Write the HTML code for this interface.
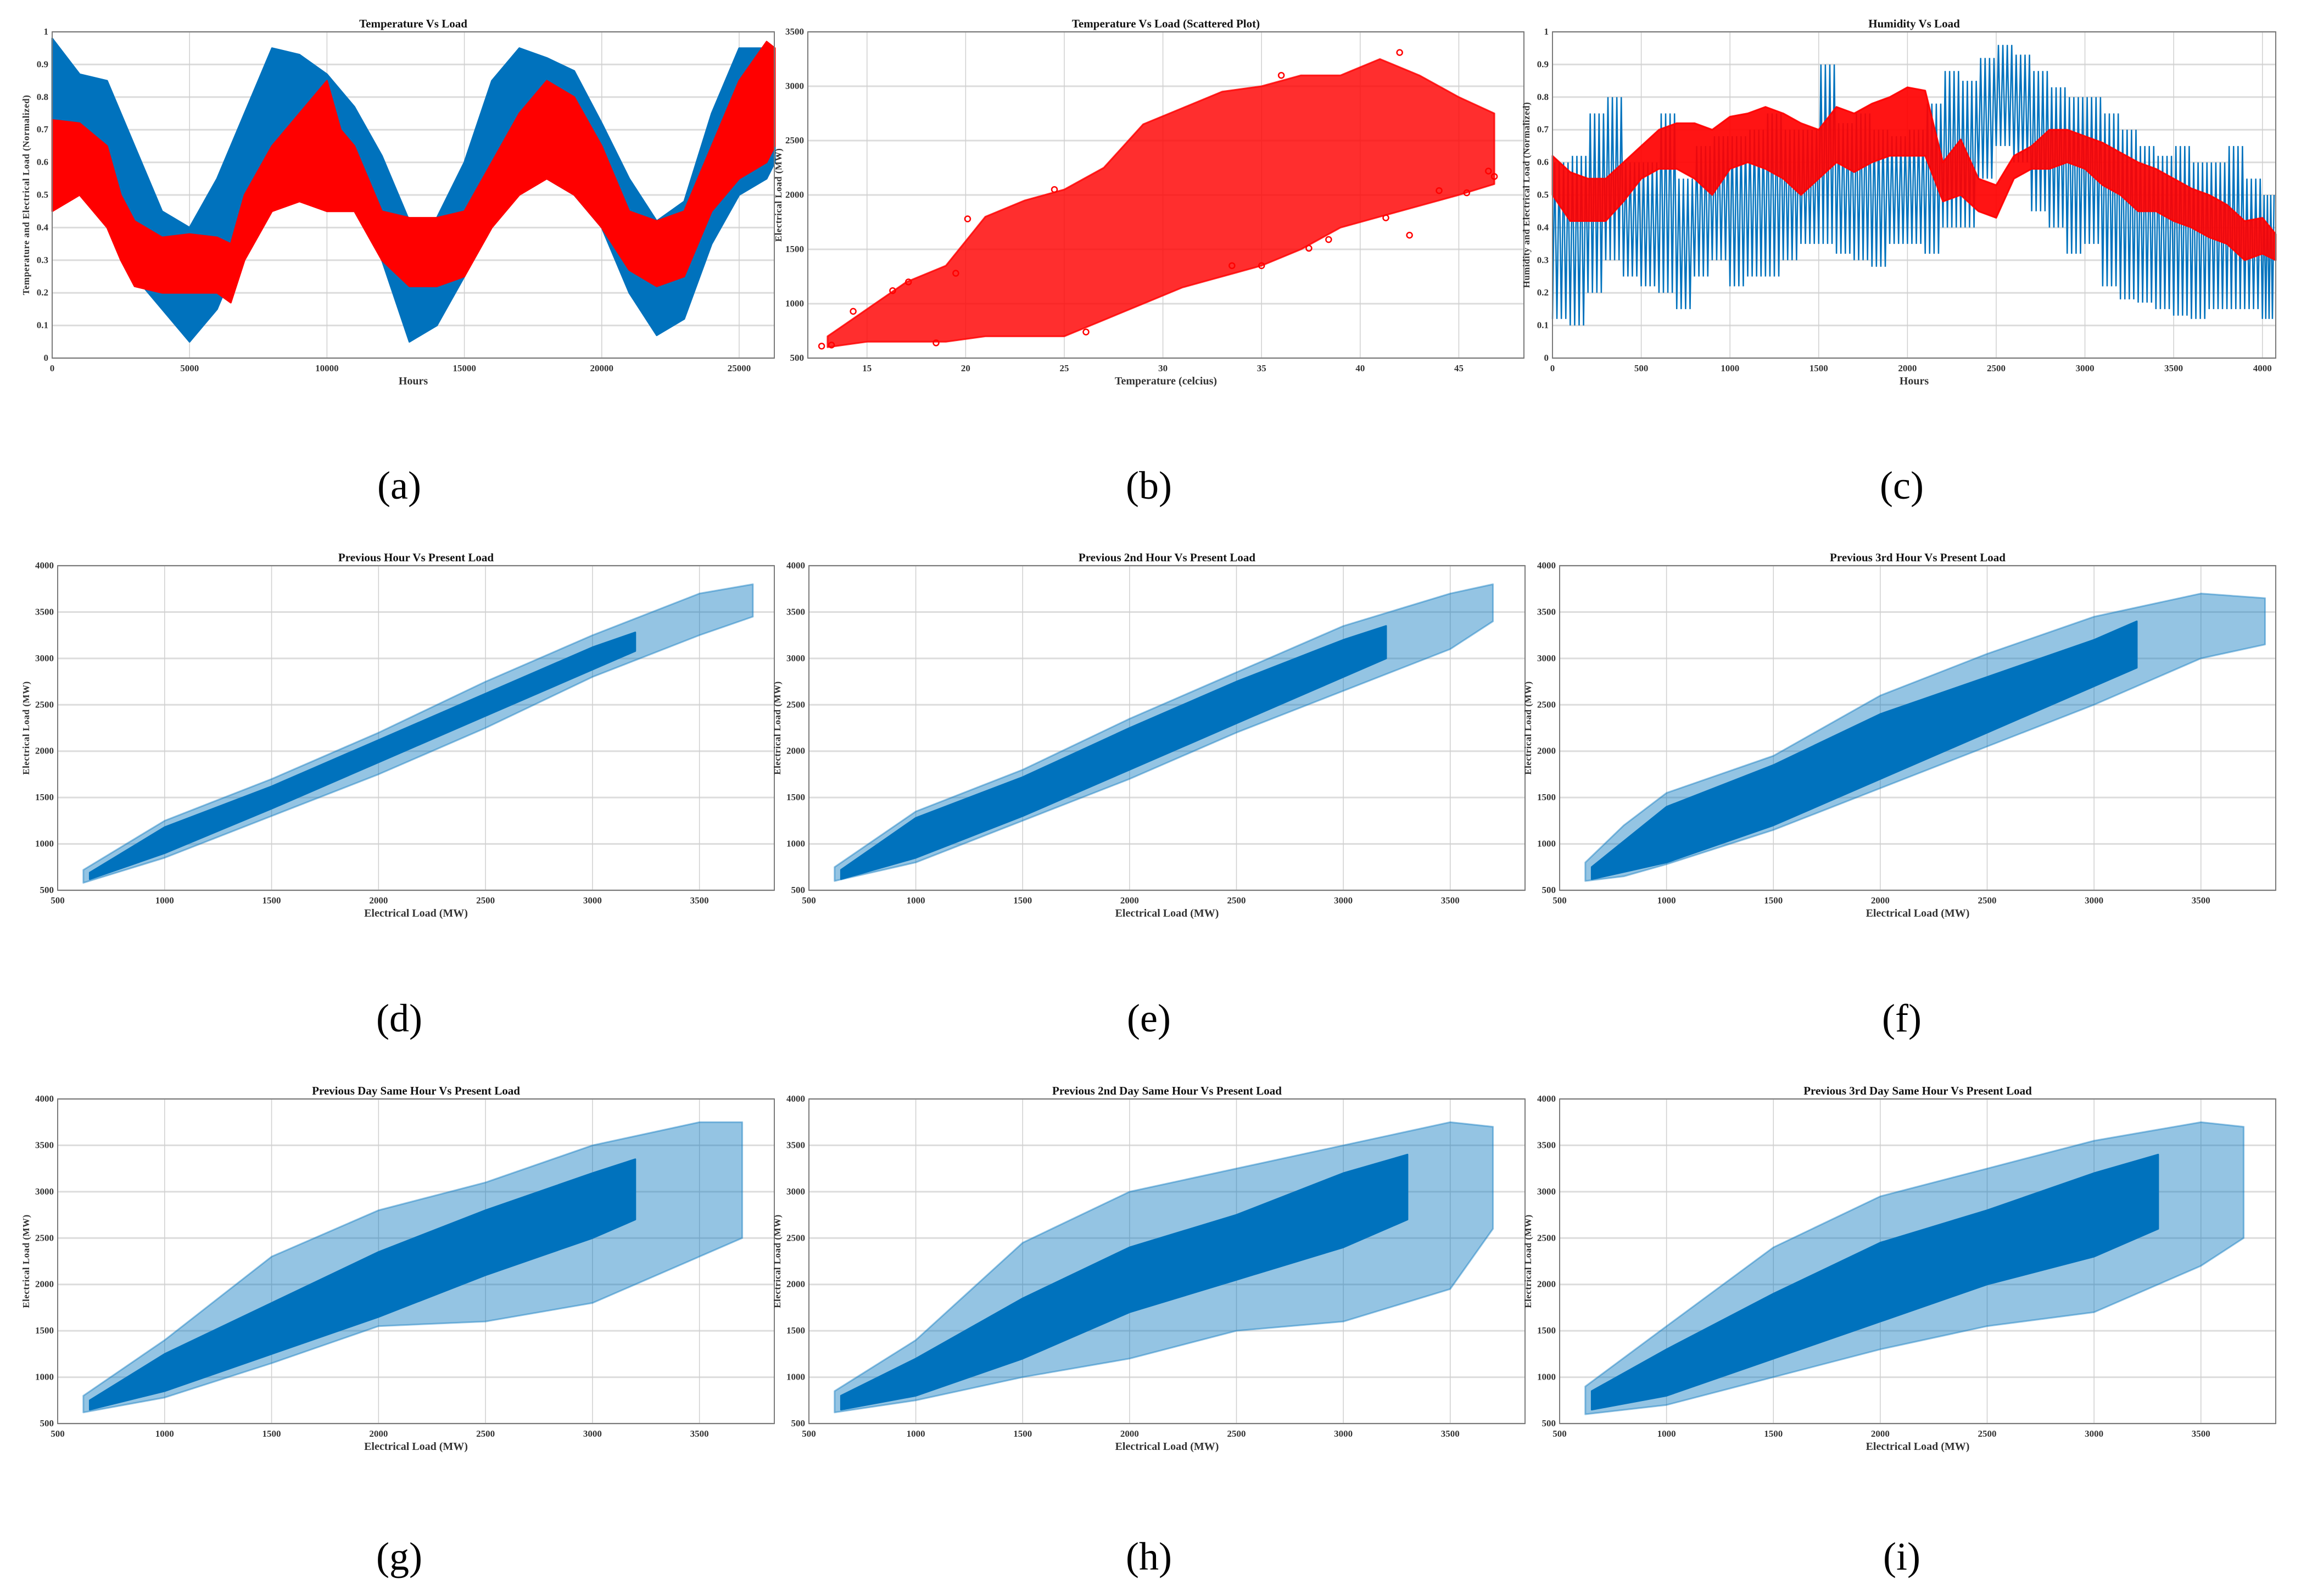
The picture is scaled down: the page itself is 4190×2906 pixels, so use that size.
<!DOCTYPE html>
<html><head><meta charset="utf-8">
<style>
html,body{margin:0;padding:0;background:#fff;}
svg{display:block;}
text{font-family:"Liberation Serif",serif;}
</style></head>
<body>
<svg id="fig" xmlns="http://www.w3.org/2000/svg" width="4190" height="2906" viewBox="0 0 4190 2906"></svg>
<script>
// ---------- Panel (a) data: Temperature vs Load (normalized), envelope per hour sample ----------
const aHours   = [0,1000,2000,3000,4000,5000,6000,7000,8000,9000,10000,11000,12000,13000,14000,15000,16000,17000,18000,19000,20000,21000,22000,23000,24000,25000,26000,26300];
const aBlueLo  = [0.5,0.55,0.45,0.25,0.15,0.05,0.15,0.35,0.5,0.55,0.55,0.5,0.3,0.05,0.1,0.25,0.45,0.55,0.55,0.5,0.4,0.2,0.07,0.12,0.35,0.5,0.55,0.6];
const aBlueHi  = [0.98,0.87,0.85,0.65,0.45,0.4,0.55,0.75,0.95,0.93,0.87,0.77,0.62,0.42,0.43,0.6,0.85,0.95,0.92,0.88,0.72,0.55,0.42,0.48,0.75,0.95,0.95,0.9];
const aRedHours= [0,1000,2000,2500,3000,4000,5000,6000,6500,7000,8000,9000,10000,10500,11000,12000,13000,14000,15000,16000,17000,18000,19000,20000,21000,22000,23000,24000,25000,26000,26300];
const aRedLo   = [0.45,0.5,0.4,0.3,0.22,0.2,0.2,0.2,0.17,0.3,0.45,0.48,0.45,0.45,0.45,0.3,0.22,0.22,0.25,0.4,0.5,0.55,0.5,0.4,0.27,0.22,0.25,0.45,0.55,0.6,0.65];
const aRedHi   = [0.73,0.72,0.65,0.5,0.42,0.37,0.38,0.37,0.35,0.5,0.65,0.75,0.85,0.7,0.65,0.45,0.43,0.43,0.45,0.6,0.75,0.85,0.8,0.65,0.45,0.42,0.45,0.65,0.85,0.97,0.95];
// ---------- Panel (b) data: temperature bins vs load range ----------
const bTemp   = [13,15,17,19,21,23,25,27,29,31,33,35,37,39,41,43,45,46.8];
const bLoadLo = [600,650,650,650,700,700,700,850,1000,1150,1250,1350,1500,1700,1800,1900,2000,2100];
const bLoadHi = [700,950,1200,1350,1800,1950,2050,2250,2650,2800,2950,3000,3100,3100,3250,3100,2900,2750];
const bOutX   = [12.7,13.2,14.3,16.3,17.1,20.1,24.5,36,38.4,42.5,42,46.5,46.8,45.4,44,41.3,37.4,35,33.5,26.1,18.5,19.5];
const bOutY   = [610,620,930,1120,1200,1780,2050,3100,1590,1630,3310,2220,2170,2020,2040,1790,1510,1350,1350,740,640,1280];
// ---------- Panel (c) data: humidity vs load ----------
const cHours  = [0,100,200,300,400,500,600,700,800,900,1000,1100,1200,1300,1400,1500,1600,1700,1800,1900,2000,2100,2200,2300,2400,2500,2600,2700,2800,2900,3000,3100,3200,3300,3400,3500,3600,3700,3800,3900,4000,4075];
const cBlueLo = [0.12,0.1,0.2,0.3,0.25,0.22,0.2,0.15,0.25,0.3,0.22,0.25,0.25,0.3,0.35,0.35,0.32,0.3,0.28,0.35,0.35,0.32,0.4,0.4,0.55,0.65,0.6,0.45,0.4,0.32,0.35,0.22,0.18,0.17,0.15,0.13,0.12,0.15,0.15,0.15,0.12,0.15];
const cBlueHi = [0.6,0.62,0.75,0.8,0.6,0.6,0.75,0.55,0.65,0.68,0.68,0.7,0.75,0.7,0.7,0.9,0.72,0.75,0.7,0.68,0.7,0.78,0.88,0.85,0.92,0.96,0.93,0.88,0.83,0.8,0.8,0.75,0.7,0.65,0.62,0.65,0.6,0.6,0.65,0.55,0.5,0.6];
const cRedLo  = [0.5,0.42,0.42,0.42,0.48,0.55,0.58,0.58,0.55,0.5,0.58,0.6,0.58,0.55,0.5,0.55,0.6,0.57,0.6,0.62,0.62,0.62,0.48,0.5,0.45,0.43,0.55,0.58,0.58,0.6,0.58,0.53,0.5,0.45,0.45,0.42,0.4,0.37,0.35,0.3,0.32,0.3];
const cRedHi  = [0.62,0.57,0.55,0.55,0.6,0.65,0.7,0.72,0.72,0.7,0.74,0.75,0.77,0.75,0.72,0.7,0.77,0.75,0.78,0.8,0.83,0.82,0.6,0.67,0.55,0.53,0.62,0.65,0.7,0.7,0.68,0.66,0.63,0.6,0.58,0.55,0.52,0.5,0.47,0.42,0.43,0.38];
// ---------- Lag scatter panels (d)-(i): x bins with dense-core and halo ranges ----------
const dCoreX=[650,1000,1500,2000,2500,3000,3200];   const dCoreLo=[620,900,1380,1880,2380,2880,3080];  const dCoreHi=[690,1180,1620,2120,2620,3120,3280];
const dHaloX=[620,1000,1500,2000,2500,3000,3500,3750]; const dHaloLo=[580,850,1300,1750,2250,2800,3250,3450]; const dHaloHi=[720,1250,1700,2200,2750,3250,3700,3800];
const eCoreX=[650,1000,1500,2000,2500,3000,3200];   const eCoreLo=[620,850,1300,1800,2300,2800,3000];  const eCoreHi=[720,1280,1720,2250,2750,3200,3350];
const eHaloX=[620,1000,1500,2000,2500,3000,3500,3700]; const eHaloLo=[600,800,1250,1700,2200,2650,3100,3400]; const eHaloHi=[750,1350,1800,2350,2850,3350,3700,3800];
const fCoreX=[650,1000,1500,2000,2500,3000,3200];   const fCoreLo=[620,800,1200,1700,2200,2700,2900];  const fCoreHi=[750,1400,1850,2400,2800,3200,3400];
const fHaloX=[620,800,1000,1500,2000,2500,3000,3500,3800]; const fHaloLo=[600,650,780,1150,1600,2050,2500,3000,3150]; const fHaloHi=[800,1200,1550,1950,2600,3050,3450,3700,3650];
const gCoreX=[650,1000,1500,2000,2500,3000,3200];   const gCoreLo=[650,850,1250,1650,2100,2500,2700];  const gCoreHi=[750,1250,1800,2350,2800,3200,3350];
const gHaloX=[620,1000,1500,2000,2500,3000,3500,3700]; const gHaloLo=[620,780,1150,1550,1600,1800,2300,2500]; const gHaloHi=[800,1400,2300,2800,3100,3500,3750,3750];
const hCoreX=[650,1000,1500,2000,2500,3000,3300];   const hCoreLo=[650,800,1200,1700,2050,2400,2700];  const hCoreHi=[800,1200,1850,2400,2750,3200,3400];
const hHaloX=[620,1000,1500,2000,2500,3000,3500,3700]; const hHaloLo=[620,750,1000,1200,1500,1600,1950,2600]; const hHaloHi=[850,1400,2450,3000,3250,3500,3750,3700];
const iCoreX=[650,1000,1500,2000,2500,3000,3300];   const iCoreLo=[650,800,1200,1600,2000,2300,2600];  const iCoreHi=[850,1300,1900,2450,2800,3200,3400];
const iHaloX=[620,1000,1500,2000,2500,3000,3500,3700]; const iHaloLo=[600,700,1000,1300,1550,1700,2200,2500]; const iHaloHi=[900,1550,2400,2950,3250,3550,3750,3700];
// tick labels
const tickA = [0,5000,10000,15000,20000,25000];
const tickNorm = [0,0.1,0.2,0.3,0.4,0.5,0.6,0.7,0.8,0.9,1];
const tickB = [15,20,25,30,35,40,45];
const tickLoad35 = [500,1000,1500,2000,2500,3000,3500];
const tickC = [0,500,1000,1500,2000,2500,3000,3500,4000];
const tickLoadX = [500,1000,1500,2000,2500,3000,3500];
const tickLoad40 = [500,1000,1500,2000,2500,3000,3500,4000];

const NS="http://www.w3.org/2000/svg";
const svg=document.getElementById('fig');
function el(tag,attrs,parent){const e=document.createElementNS(NS,tag);for(const k in attrs)e.setAttribute(k,attrs[k]);(parent||svg).appendChild(e);return e;}
const BLUE="#0072bd", RED="#ff0000";

function makeAxes(p){
  const g=el('g',{});
  
  
  const sx=v=>p.x0+(v-p.xmin)/(p.xmax-p.xmin)*(p.x1-p.x0);
  const sy=v=>p.y1-(v-p.ymin)/(p.ymax-p.ymin)*(p.y1-p.y0);
  p.sx=sx;p.sy=sy;p.g=g;
  p.yt.forEach(v=>{const l=el('line',{x1:p.x0,x2:p.x1,y1:sy(v),y2:sy(v),stroke:'#dcdcdc','stroke-width':3},g);
    
    });
  p.xt.forEach(v=>{const l=el('line',{x1:sx(v),x2:sx(v),y1:p.y0,y2:p.y1,stroke:'#cfcfcf','stroke-width':1.5},g);
    
    });
  return g;
}
function finishAxes(p){
  const g=p.g;
  const box=el('rect',{x:p.x0,y:p.y0,width:p.x1-p.x0,height:p.y1-p.y0,fill:'none',stroke:'#7a7a7a','stroke-width':2},g);
  
  
  p.xt.forEach(v=>{const t=el('text',{x:p.sx(v),y:p.y1+24,'font-size':17,'font-weight':'bold','text-anchor':'middle',fill:'#333'},g);t.textContent=v;
    
    });
  p.yt.forEach(v=>{const t=el('text',{x:p.x0-7,y:p.sy(v)+5,'font-size':17,'font-weight':'bold','text-anchor':'end',fill:'#333'},g);t.textContent=v;
    
    });
  const title=el('text',{x:(p.x0+p.x1)/2,y:p.y0-8,'font-size':21,'font-weight':'bold','text-anchor':'middle',fill:'#111'},g);title.textContent=p.title;
  
  
  const xl=el('text',{x:(p.x0+p.x1)/2,y:p.y1+48,'font-size':20,'font-weight':'bold','text-anchor':'middle',fill:'#333'},g);xl.textContent=p.xlabel;
  
  
  const cy=(p.y0+p.y1)/2, cx=p.x0-p.ylOff;
  const yl=el('text',{x:cx,y:cy,'font-size':17,'font-weight':'bold','text-anchor':'middle',fill:'#333',transform:`rotate(-90 ${cx} ${cy})`,'letter-spacing':'0.5'},g);yl.textContent=p.ylabel;
  
  
  const lab=el('text',{x:p.labX,y:p.labY,'font-size':72,'text-anchor':'middle',fill:'#000'});lab.textContent=p.letter;
  
  
}
function band(p,xs,lo,hi,fill,op,name){
  let d='M'+xs.map((x,i)=>p.sx(x)+','+p.sy(hi[i])).join(' L');
  d+=' L'+xs.map((x,i)=>p.sx(x)+','+p.sy(lo[i])).reverse().join(' L')+' Z';
  const path=el('path',{d:d,fill:fill,'fill-opacity':op,stroke:fill,'stroke-opacity':op,'stroke-width':3,'stroke-linejoin':'round'},p.g);
  
  
}

const rows=[[58,652,908],[1030,1621,1878],[2001,2592,2858]];
const cols=[[97,1410,727],[1471,2777,2092],[2830,4144,3463]];

// Panel a
const pa={name:'temperature-vs-load-chart',x0:95,x1:1410,y0:rows[0][0],y1:rows[0][1],xmin:0,xmax:26280,ymin:0,ymax:1,xt:tickA,yt:tickNorm,
  title:'Temperature Vs Load',xlabel:'Hours',ylabel:'Temperature and Electrical Load (Normalized)',ylOff:42,letter:'(a)',labX:cols[0][2],labY:rows[0][2]};
makeAxes(pa);
band(pa,aHours,aBlueLo,aBlueHi,BLUE,1,'temperature-series');
band(pa,aRedHours,aRedLo,aRedHi,RED,1,'load-series');
finishAxes(pa);

// Panel b
const pb={name:'temperature-load-scatter-chart',x0:1471,x1:2775,y0:rows[0][0],y1:rows[0][1],xmin:12,xmax:48.3,ymin:500,ymax:3500,xt:tickB,yt:tickLoad35,
  title:'Temperature Vs Load (Scattered Plot)',xlabel:'Temperature (celcius)',ylabel:'Electrical Load (MW)',ylOff:48,letter:'(b)',labX:cols[1][2],labY:rows[0][2]};
makeAxes(pb);
band(pb,bTemp,bLoadLo,bLoadHi,RED,0.82,'scatter-cloud');
bOutX.forEach((x,i)=>{const c=el('circle',{cx:pb.sx(x),cy:pb.sy(bOutY[i]),r:5,fill:'none',stroke:RED,'stroke-width':2.5},pb.g);
  
  });
finishAxes(pb);

// Panel c
const pc={name:'humidity-vs-load-chart',x0:2827,x1:4144,y0:rows[0][0],y1:rows[0][1],xmin:0,xmax:4075,ymin:0,ymax:1,xt:tickC,yt:tickNorm,
  title:'Humidity Vs Load',xlabel:'Hours',ylabel:'Humidity and Electrical Load (Normalized)',ylOff:42,letter:'(c)',labX:cols[2][2],labY:rows[0][2]};
makeAxes(pc);
(function(){
  let pts=[];
  const n=4;
  for(let i=0;i<cHours.length-1;i++){
    const t0=cHours[i], dt=(cHours[i+1]-cHours[i])/n;
    for(let k=0;k<n;k++){
      pts.push(pc.sx(t0+k*dt)+','+pc.sy(cBlueLo[i]));
      pts.push(pc.sx(t0+k*dt+dt/2)+','+pc.sy(cBlueHi[i]));
    }
  }
  const pl=el('polyline',{points:pts.join(' '),fill:'none',stroke:BLUE,'stroke-width':2.5,'stroke-linejoin':'miter'},pc.g);
  
  
})();
band(pc,cHours,cRedLo,cRedHi,RED,0.92,'load-series');
finishAxes(pc);

// Panels d-i
const lagPanels=[
 ['previous-hour-chart','Previous Hour Vs Present Load','(d)',0,1,dCoreX,dCoreLo,dCoreHi,dHaloX,dHaloLo,dHaloHi],
 ['previous-2nd-hour-chart','Previous 2nd Hour Vs Present Load','(e)',1,1,eCoreX,eCoreLo,eCoreHi,eHaloX,eHaloLo,eHaloHi],
 ['previous-3rd-hour-chart','Previous 3rd Hour Vs Present Load','(f)',2,1,fCoreX,fCoreLo,fCoreHi,fHaloX,fHaloLo,fHaloHi],
 ['previous-day-chart','Previous Day Same Hour Vs Present Load','(g)',0,2,gCoreX,gCoreLo,gCoreHi,gHaloX,gHaloLo,gHaloHi],
 ['previous-2nd-day-chart','Previous 2nd Day Same Hour Vs Present Load','(h)',1,2,hCoreX,hCoreLo,hCoreHi,hHaloX,hHaloLo,hHaloHi],
 ['previous-3rd-day-chart','Previous 3rd Day Same Hour Vs Present Load','(i)',2,2,iCoreX,iCoreLo,iCoreHi,iHaloX,iHaloLo,iHaloHi]
];
lagPanels.forEach(L=>{
  const c=cols[L[3]], r=rows[L[4]];
  const x0 = L[3]===0?105:(L[3]===1?1473:2840);
  const p={name:L[0],x0:x0,x1:c[1],y0:r[0],y1:r[1],xmin:500,xmax:3850,ymin:500,ymax:4000,xt:tickLoadX,yt:tickLoad40,
    title:L[1],xlabel:'Electrical Load (MW)',ylabel:'Electrical Load (MW)',ylOff:52,letter:L[2],labX:c[2],labY:r[2]};
  makeAxes(p);
  band(p,L[8],L[9],L[10],BLUE,0.42,'scatter-halo');
  band(p,L[5],L[6],L[7],BLUE,1,'scatter-core');
  finishAxes(p);
});
</script>
</body></html>
